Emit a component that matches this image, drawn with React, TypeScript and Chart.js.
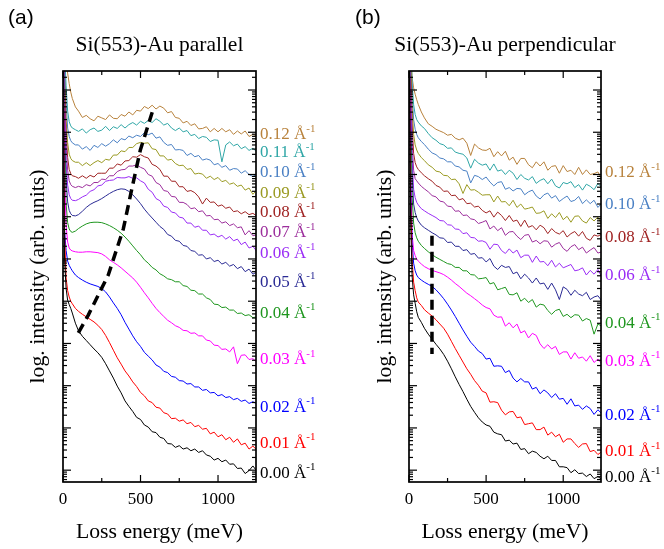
import React, { useEffect, useRef } from 'react';
import { Chart, registerables } from 'chart.js';

Chart.register(...registerables);

// Loss energy grid (meV)
const ENERGY = [
  0, 10, 20, 30, 40, 50, 60, 80,
  100, 125, 150, 175, 200, 225, 250, 275, 300, 325, 350, 375, 400, 425, 450, 475,
  500, 525, 550, 575, 600, 625, 650, 675, 700, 725, 750, 775, 800, 825, 850, 875, 900, 925, 950, 975,
  1000, 1025, 1050, 1075, 1100, 1125, 1150, 1175, 1200, 1225, 1250,
];

const Q_LABELS = ['0.00', '0.01', '0.02', '0.03', '0.04', '0.05', '0.06', '0.07', '0.08', '0.09', '0.10', '0.11', '0.12'];
const COLORS = ['#000000', '#ff0000', '#0000ff', '#ff00ff', '#1e961e', '#2a2a94', '#9a2cf5', '#9c2e9c', '#a02424', '#9a9a22', '#4a80c4', '#2fa6a6', '#b8823c'];

// ---- Si(553)-Au parallel: log10 intensity (offset waterfall) ----
const PAR_000 = [11, 5.0, 4.3, 4.02, 3.92, 3.83, 3.72, 3.48,
  3.3, 3.17, 3.07, 2.97, 2.87, 2.78, 2.67, 2.52, 2.35, 2.18, 1.99, 1.83, 1.64, 1.51, 1.39, 1.25,
  1.2, 1.07, 1.02, 0.91, 0.89, 0.78, 0.75, 0.63, 0.62, 0.54, 0.58, 0.5, 0.53, 0.46, 0.5, 0.42, 0.46, 0.36, 0.33, 0.24,
  0.28, 0.2, 0.24, 0.14, 0.15, 0.04, 0.05, -0.08, -0.01, 0.1, -0.02];
const PAR_001 = [11, 5.6, 4.55, 4.25, 4.1, 4.0, 3.94, 3.83,
  3.76, 3.69, 3.63, 3.57, 3.51, 3.43, 3.33, 3.19, 3.02, 2.84, 2.66, 2.51, 2.35, 2.23, 2.09, 1.98,
  1.84, 1.76, 1.64, 1.6, 1.49, 1.47, 1.36, 1.33, 1.22, 1.23, 1.16, 1.19, 1.1, 1.13, 1.03, 1.06, 0.97, 0.99, 0.86, 0.9,
  0.79, 0.84, 0.72, 0.78, 0.66, 0.74, 0.6, 0.64, 0.5, 0.57, 0.48];
const PAR_002 = [11, 5.7, 5.2, 4.95, 4.85, 4.78, 4.72, 4.62,
  4.56, 4.5, 4.45, 4.41, 4.38, 4.35, 4.3, 4.22, 4.1, 3.96, 3.83, 3.68, 3.5, 3.34, 3.18, 3.04,
  2.93, 2.79, 2.7, 2.61, 2.49, 2.44, 2.34, 2.31, 2.22, 2.2, 2.12, 2.11, 2.04, 2.05, 1.97, 1.97, 1.89, 1.91, 1.83, 1.84,
  1.76, 1.79, 1.72, 1.74, 1.67, 1.7, 1.63, 1.66, 1.58, 1.62, 1.57];
const PAR_003 = [11, 7.0, 5.8, 5.4, 5.26, 5.21, 5.19, 5.17,
  5.16, 5.16, 5.17, 5.17, 5.16, 5.15, 5.12, 5.06, 4.98, 4.92, 4.86, 4.79, 4.71, 4.63, 4.55, 4.45,
  4.33, 4.2, 4.08, 3.95, 3.83, 3.73, 3.64, 3.55, 3.49, 3.42, 3.38, 3.31, 3.3, 3.24, 3.25, 3.18, 3.18, 3.08, 3.06, 2.96,
  2.95, 2.86, 2.87, 2.8, 2.92, 2.52, 2.72, 2.73, 2.62, 2.64, 2.56];
const PAR_004 = [11, 7.6, 6.3, 5.86, 5.71, 5.65, 5.63, 5.66,
  5.72, 5.78, 5.83, 5.86, 5.87, 5.87, 5.86, 5.83, 5.79, 5.74, 5.68, 5.61, 5.52, 5.42, 5.31, 5.2,
  5.1, 4.98, 4.9, 4.8, 4.74, 4.65, 4.6, 4.53, 4.51, 4.46, 4.46, 4.37, 4.35, 4.26, 4.25, 4.17, 4.17, 4.08, 4.04, 3.93,
  3.92, 3.85, 3.86, 3.79, 3.79, 3.71, 3.72, 3.66, 3.68, 3.61, 3.63];
const PAR_005 = [11, 8.0, 6.9, 6.35, 6.15, 6.07, 6.03, 6.02,
  6.05, 6.13, 6.22, 6.29, 6.34, 6.38, 6.43, 6.49, 6.55, 6.6, 6.64, 6.66, 6.65, 6.6, 6.52, 6.42,
  6.31, 6.18, 6.07, 5.97, 5.87, 5.77, 5.7, 5.58, 5.54, 5.44, 5.42, 5.32, 5.3, 5.2, 5.18, 5.09, 5.1, 5.0, 5.03, 4.94,
  4.97, 4.88, 4.92, 4.83, 4.87, 4.77, 4.82, 4.7, 4.76, 4.64, 4.69];
const PAR_006 = [11, 8.4, 7.3, 6.75, 6.52, 6.43, 6.39, 6.38,
  6.41, 6.47, 6.51, 6.6, 6.64, 6.73, 6.75, 6.84, 6.86, 6.87, 6.93, 6.92, 6.92, 6.95, 6.91, 6.92,
  6.85, 6.8, 6.65, 6.58, 6.43, 6.38, 6.25, 6.22, 6.11, 6.09, 5.99, 5.97, 5.85, 5.85, 5.75, 5.78, 5.68, 5.68, 5.57, 5.59,
  5.52, 5.56, 5.47, 5.53, 5.43, 5.47, 5.34, 5.4, 5.26, 5.3, 5.18];
const PAR_007 = [11, 8.8, 7.7, 7.1, 6.85, 6.76, 6.72, 6.69,
  6.72, 6.69, 6.76, 6.73, 6.81, 6.81, 6.89, 6.88, 6.97, 6.97, 7.07, 7.11, 7.12, 7.2, 7.2, 7.23,
  7.17, 7.13, 7.0, 6.96, 6.81, 6.76, 6.62, 6.6, 6.48, 6.47, 6.34, 6.34, 6.29, 6.19, 6.21, 6.12, 6.14, 6.02, 6.03, 5.93,
  5.94, 5.85, 5.88, 5.79, 5.83, 5.74, 5.76, 5.57, 5.67, 5.55, 5.57];
const PAR_008 = [11, 9.0, 8.0, 7.4, 7.12, 7.02, 6.97, 6.95,
  6.91, 6.97, 6.91, 6.98, 6.94, 7.03, 7.03, 7.03, 7.15, 7.15, 7.25, 7.22, 7.32, 7.33, 7.42, 7.41,
  7.47, 7.42, 7.39, 7.24, 7.2, 7.12, 6.96, 6.96, 6.84, 6.84, 6.71, 6.71, 6.6, 6.62, 6.57, 6.47, 6.3, 6.44, 6.34, 6.35,
  6.25, 6.28, 6.2, 6.23, 6.12, 6.14, 6.07, 6.12, 6.05, 6.08, 6.02];
const PAR_009 = [11, 9.3, 8.3, 7.75, 7.48, 7.38, 7.33, 7.29,
  7.29, 7.21, 7.28, 7.21, 7.28, 7.33, 7.28, 7.36, 7.34, 7.46, 7.46, 7.56, 7.54, 7.64, 7.64, 7.73,
  7.76, 7.74, 7.75, 7.61, 7.59, 7.44, 7.44, 7.34, 7.36, 7.26, 7.21, 7.22, 7.12, 7.14, 7.01, 7.03, 7.01, 6.91, 6.96, 6.88,
  6.93, 6.83, 6.86, 6.77, 6.8, 6.72, 6.75, 6.63, 6.68, 6.53, 6.63];
const PAR_010 = [11, 9.6, 8.7, 8.1, 7.9, 7.8, 7.75, 7.7,
  7.7, 7.6, 7.66, 7.57, 7.69, 7.64, 7.73, 7.67, 7.73, 7.82, 7.75, 7.85, 7.82, 7.91, 7.87, 7.93,
  7.9, 7.99, 7.94, 7.98, 7.86, 7.89, 7.76, 7.69, 7.71, 7.58, 7.59, 7.57, 7.45, 7.5, 7.42, 7.45, 7.34, 7.37, 7.34, 7.23,
  7.26, 7.17, 7.21, 7.1, 7.14, 7.13, 7.03, 7.09, 7.0, 6.95, 7.02];
const PAR_011 = [11, 9.9, 9.1, 8.5, 8.25, 8.15, 8.1, 8.06,
  8.02, 8.08, 7.98, 8.06, 8.1, 8.02, 8.05, 8.14, 8.04, 8.13, 8.09, 8.18, 8.1, 8.18, 8.23, 8.17,
  8.26, 8.21, 8.28, 8.23, 8.32, 8.26, 8.17, 8.21, 8.1, 8.04, 8.1, 8.01, 8.04, 7.92, 7.95, 7.85, 7.9, 7.88, 7.78, 7.82,
  7.81, 7.3, 7.7, 7.77, 7.68, 7.72, 7.61, 7.66, 7.57, 7.62, 7.54];
const PAR_012 = [11, 10.2, 9.7, 9.4, 9.15, 8.95, 8.8, 8.6,
  8.5, 8.35, 8.4, 8.32, 8.27, 8.38, 8.34, 8.3, 8.41, 8.33, 8.32, 8.42, 8.38, 8.48, 8.41, 8.52,
  8.5, 8.61, 8.56, 8.64, 8.55, 8.62, 8.57, 8.46, 8.49, 8.35, 8.33, 8.22, 8.26, 8.16, 8.2, 8.08, 8.09, 8.13, 8.01, 8.09,
  8.01, 8.09, 8.01, 8.06, 7.95, 8.03, 7.96, 8.03, 7.9, 7.95, 7.91];

// ---- Si(553)-Au perpendicular ----
const PERP_000 = [11, 6.0, 4.6, 4.15, 3.95, 3.75, 3.62, 3.5,
  3.36, 3.22, 3.1, 2.98, 2.87, 2.74, 2.58, 2.4, 2.21, 2.03, 1.86, 1.68, 1.51, 1.37, 1.24, 1.14,
  1.07, 1.04, 0.9, 0.86, 0.84, 0.69, 0.71, 0.62, 0.64, 0.49, 0.51, 0.39, 0.45, 0.42, 0.33, 0.27, 0.33, 0.23, 0.23, 0.08,
  0.08, 0.06, -0.06, 0.01, -0.08, -0.07, -0.15, -0.09, -0.2, -0.15, -0.22];
const PERP_001 = [11, 6.6, 5.0, 4.45, 4.25, 4.08, 3.98, 3.9,
  3.8, 3.72, 3.65, 3.56, 3.46, 3.36, 3.22, 3.05, 2.88, 2.72, 2.56, 2.4, 2.27, 2.12, 2.01, 1.87,
  1.83, 1.61, 1.62, 1.6, 1.42, 1.31, 1.38, 1.39, 1.24, 1.26, 1.08, 1.1, 1.12, 0.96, 0.96, 1.02, 0.83, 0.9, 0.79, 0.85,
  0.66, 0.74, 0.74, 0.63, 0.54, 0.62, 0.63, 0.44, 0.47, 0.37, 0.44];
const PERP_002 = [11, 6.9, 5.4, 4.9, 4.72, 4.62, 4.56, 4.5,
  4.45, 4.4, 4.35, 4.27, 4.17, 4.06, 3.93, 3.79, 3.64, 3.48, 3.32, 3.17, 3.03, 2.93, 2.82, 2.76,
  2.63, 2.65, 2.46, 2.47, 2.46, 2.31, 2.36, 2.18, 2.09, 2.17, 2.09, 2.09, 1.92, 1.96, 1.81, 1.9, 1.83, 1.72, 1.81, 1.68,
  1.7, 1.56, 1.69, 1.52, 1.54, 1.44, 1.52, 1.46, 1.32, 1.43, 1.34];
const PERP_003 = [11, 7.3, 5.6, 5.2, 5.08, 5.0, 4.95, 4.88,
  4.82, 4.77, 4.73, 4.7, 4.67, 4.63, 4.57, 4.5, 4.42, 4.35, 4.27, 4.19, 4.13, 4.06, 3.99, 3.91,
  3.85, 3.82, 3.67, 3.62, 3.63, 3.41, 3.49, 3.37, 3.46, 3.25, 3.3, 3.13, 3.24, 3.19, 2.99, 2.88, 2.97, 2.87, 2.93, 2.74,
  2.8, 2.8, 2.63, 2.78, 2.65, 2.68, 2.58, 2.71, 2.55, 2.63, 2.52];
const PERP_004 = [11, 8.0, 6.5, 5.85, 5.62, 5.5, 5.42, 5.32,
  5.25, 5.17, 5.1, 5.04, 4.99, 4.94, 4.89, 4.87, 4.8, 4.8, 4.72, 4.72, 4.63, 4.62, 4.53, 4.54,
  4.56, 4.41, 4.44, 4.27, 4.3, 4.33, 4.16, 4.15, 4.2, 4.0, 4.07, 3.97, 4.04, 3.86, 3.93, 3.91, 3.78, 3.69, 3.78, 3.81,
  3.64, 3.69, 3.61, 3.68, 3.67, 3.53, 3.59, 3.55, 3.22, 3.46, 3.41];
const PERP_005 = [11, 8.5, 7.0, 6.3, 6.1, 5.98, 5.9, 5.8,
  5.74, 5.68, 5.62, 5.57, 5.5, 5.49, 5.39, 5.4, 5.3, 5.3, 5.2, 5.22, 5.11, 5.13, 5.02, 5.03,
  4.93, 5.01, 4.83, 4.75, 4.85, 4.8, 4.82, 4.65, 4.69, 4.53, 4.64, 4.55, 4.43, 4.55, 4.41, 4.43, 4.28, 4.43, 4.27, 4.04,
  4.34, 4.28, 4.14, 4.26, 4.17, 4.13, 4.21, 4.04, 4.1, 4.13, 4.01];
const PERP_006 = [11, 8.9, 7.4, 6.65, 6.45, 6.34, 6.28, 6.19,
  6.14, 6.08, 6.03, 5.98, 5.91, 5.9, 5.81, 5.8, 5.71, 5.7, 5.6, 5.62, 5.51, 5.5, 5.42, 5.43,
  5.39, 5.23, 5.35, 5.34, 5.2, 5.13, 5.24, 5.14, 5.21, 5.03, 5.09, 5.09, 4.92, 5.07, 4.93, 4.94, 4.84, 4.97, 4.81, 4.9,
  4.79, 4.83, 4.87, 4.72, 4.74, 4.79, 4.62, 4.73, 4.64, 4.75, 4.57];
const PERP_007 = [11, 9.2, 7.8, 7.1, 6.9, 6.85, 6.8, 6.72,
  6.66, 6.59, 6.5, 6.47, 6.37, 6.35, 6.25, 6.24, 6.13, 6.14, 6.03, 6.04, 5.95, 5.93, 5.84, 5.87,
  5.91, 5.71, 5.78, 5.67, 5.74, 5.56, 5.64, 5.65, 5.54, 5.46, 5.56, 5.58, 5.4, 5.44, 5.36, 5.43, 5.42, 5.28, 5.35, 5.39,
  5.25, 5.18, 5.29, 5.34, 5.22, 5.28, 5.14, 5.21, 5.27, 5.14, 5.17];
const PERP_008 = [11, 9.5, 8.2, 7.5, 7.28, 7.18, 7.12, 7.04,
  6.97, 6.9, 6.84, 6.74, 6.7, 6.6, 6.61, 6.5, 6.51, 6.4, 6.43, 6.31, 6.32, 6.23, 6.25, 6.15,
  6.09, 6.14, 5.99, 6.11, 6.03, 5.91, 6.03, 5.89, 5.92, 5.77, 5.92, 5.75, 5.79, 5.69, 5.8, 5.74, 5.6, 5.72, 5.63, 5.59,
  5.67, 5.52, 5.6, 5.65, 5.54, 5.65, 5.49, 5.44, 5.57, 5.54, 5.59];
const PERP_009 = [11, 9.8, 8.6, 7.95, 7.7, 7.58, 7.5, 7.4,
  7.33, 7.23, 7.17, 7.08, 7.06, 6.98, 6.97, 6.88, 6.89, 6.78, 6.55, 6.76, 6.63, 6.64, 6.58, 6.51,
  6.52, 6.52, 6.35, 6.49, 6.35, 6.36, 6.26, 6.39, 6.22, 6.3, 6.18, 6.2, 6.23, 6.08, 6.09, 6.14, 5.96, 6.07, 5.98, 6.1,
  5.93, 6.01, 5.87, 6.01, 6.02, 5.9, 5.85, 5.98, 5.9, 5.99, 5.82];
const PERP_010 = [11, 10.1, 8.9, 8.3, 8.07, 7.95, 7.87, 7.78,
  7.71, 7.6, 7.51, 7.47, 7.39, 7.37, 7.3, 7.3, 7.2, 7.18, 7.1, 7.08, 6.8, 6.98, 6.95, 6.88,
  6.94, 6.82, 6.73, 6.81, 6.83, 6.65, 6.69, 6.61, 6.67, 6.66, 6.52, 6.59, 6.63, 6.49, 6.42, 6.52, 6.56, 6.44, 6.5, 6.36,
  6.43, 6.49, 6.36, 6.39, 6.48, 6.31, 6.4, 6.31, 6.39, 6.22, 6.32];
const PERP_011 = [11, 10.4, 9.2, 8.65, 8.42, 8.3, 8.24, 8.15,
  8.09, 7.97, 7.87, 7.81, 7.73, 7.7, 7.62, 7.63, 7.53, 7.5, 7.48, 7.39, 7.15, 7.36, 7.27, 7.22,
  7.25, 7.1, 7.25, 7.08, 7.11, 7.0, 7.1, 7.03, 6.88, 7.0, 6.91, 6.87, 6.95, 6.79, 6.86, 6.9, 6.78, 6.89, 6.73, 6.68,
  6.81, 6.78, 6.83, 6.69, 6.76, 6.63, 6.77, 6.72, 6.64, 6.79, 6.69];
const PERP_012 = [11, 10.0, 9.3, 9.05, 8.9, 8.77, 8.66, 8.48,
  8.34, 8.2, 8.14, 8.07, 8.03, 7.99, 7.93, 7.95, 7.86, 7.82, 7.86, 7.74, 7.45, 7.72, 7.63, 7.58,
  7.57, 7.62, 7.42, 7.54, 7.44, 7.55, 7.34, 7.41, 7.24, 7.38, 7.38, 7.23, 7.16, 7.3, 7.2, 7.3, 7.1, 7.19, 7.21, 7.03,
  7.21, 7.07, 7.1, 7.0, 7.17, 7.0, 7.11, 7.0, 7.02, 7.06, 6.89];

const PAR_SERIES = [PAR_000, PAR_001, PAR_002, PAR_003, PAR_004, PAR_005, PAR_006, PAR_007, PAR_008, PAR_009, PAR_010, PAR_011, PAR_012];
const PERP_SERIES = [PERP_000, PERP_001, PERP_002, PERP_003, PERP_004, PERP_005, PERP_006, PERP_007, PERP_008, PERP_009, PERP_010, PERP_011, PERP_012];

// curve label positions (log-intensity units)
const PAR_LABEL_IDX = [0, 1, 2, 3, 4, 5, 6, 7, 8, 9, 10, 11, 12];
const PAR_LABEL_POS = [-0.07, 0.64, 1.49, 2.61, 3.72, 4.45, 5.14, 5.62, 6.11, 6.56, 7.04, 7.51, 7.94];
const PERP_LABEL_IDX = [0, 1, 2, 3, 4, 6, 8, 10, 12];
const PERP_LABEL_POS = [-0.17, 0.43, 1.3, 2.58, 3.48, 4.6, 5.5, 6.28, 7.04];

// plasmon dispersion guide lines
const PAR_DISP_E = [99, 163, 228, 292, 389, 447, 499, 576];
const PAR_DISP_V = [3.25, 3.67, 4.15, 4.62, 5.71, 6.71, 7.58, 8.48];
const PERP_DISP_E = [149, 149];
const PERP_DISP_V = [5.55, 2.75];

const X_TICKS = [0, 500, 1000];
const X_MINOR = [250, 750];
const X_MAX = 1245;
const Y_MIN = -0.28;
const Y_MAX = 9.45;

const SERIF = '"Liberation Serif", "Times New Roman", serif';
const SANS = '"Liberation Sans", Arial, sans-serif';

type PanelProps = {
  left: number;
  padL: number;
  padR: number;
  series: number[][];
  labelIdx: number[];
  labelPos: number[];
  dispE: number[];
  dispV: number[];
  title: string;
  tag: string;
  tagX: number;
  yTitleX: number;
};

function makeDecor(p: PanelProps) {
  return {
    id: 'decor',
    afterDraw(chart: any) {
      const { ctx, chartArea: a } = chart;
      const xs = chart.scales.x;
      const ys = chart.scales.y;
      ctx.save();
      const seg = (x1: number, y1: number, x2: number, y2: number) => {
        ctx.beginPath();
        ctx.moveTo(x1, y1);
        ctx.lineTo(x2, y2);
        ctx.stroke();
      };
      ctx.strokeStyle = '#000';
      ctx.lineWidth = 1.2;
      for (const t of X_TICKS) {
        const px = xs.getPixelForValue(t);
        seg(px, a.bottom, px, a.bottom - 7);
        seg(px, a.top, px, a.top + 7);
      }
      for (const t of X_MINOR) {
        const px = xs.getPixelForValue(t);
        seg(px, a.bottom, px, a.bottom - 4);
        seg(px, a.top, px, a.top + 4);
      }
      for (let d = -1; d <= 9; d++) {
        for (let k = 1; k <= 9; k++) {
          const v = d + Math.log10(k);
          if (v < Y_MIN || v > Y_MAX) continue;
          const py = ys.getPixelForValue(v);
          const len = k === 1 ? 8 : 4;
          seg(a.left, py, a.left + len, py);
          seg(a.right, py, a.right - len, py);
        }
      }
      ctx.lineWidth = 1.7;
      ctx.strokeRect(a.left, a.top, a.right - a.left, a.bottom - a.top);

      ctx.fillStyle = '#000';
      ctx.textAlign = 'center';
      ctx.textBaseline = 'middle';
      ctx.font = `17px ${SERIF}`;
      for (const t of X_TICKS) {
        ctx.fillText(String(t), xs.getPixelForValue(t), a.bottom + 18);
      }
      ctx.font = `21.7px ${SERIF}`;
      const cx = (a.left + a.right) / 2;
      ctx.fillText('Loss energy (meV)', cx, a.bottom + 50);
      ctx.font = `21.5px ${SERIF}`;
      ctx.fillText(p.title, cx, 45);
      ctx.save();
      ctx.translate(p.yTitleX, (a.top + a.bottom) / 2);
      ctx.rotate(-Math.PI / 2);
      ctx.font = `21.7px ${SERIF}`;
      ctx.fillText('log. intensity (arb. units)', 0, 0);
      ctx.restore();
      ctx.textAlign = 'left';
      ctx.font = `21px ${SANS}`;
      ctx.fillText(p.tag, p.tagX, 18);

      p.labelIdx.forEach((idx, j) => {
        const py = ys.getPixelForValue(p.labelPos[j]);
        const lx = a.right + 4;
        ctx.fillStyle = COLORS[idx];
        ctx.font = `17px ${SERIF}`;
        const main = Q_LABELS[idx] + ' \u00c5';
        ctx.fillText(main, lx, py);
        const w = ctx.measureText(main).width;
        ctx.font = `11px ${SERIF}`;
        ctx.fillText('-1', lx + w, py - 6);
      });
      ctx.restore();
    },
  };
}

function Panel(p: PanelProps) {
  const ref = useRef<HTMLCanvasElement>(null);
  useEffect(() => {
    if (!ref.current) return;
    const datasets: any[] = [
      {
        data: p.dispE.map((e, j) => ({ x: e, y: p.dispV[j] })),
        borderColor: '#000',
        borderWidth: 3.5,
        borderDash: [10, 6],
        pointRadius: 0,
        fill: false,
        tension: 0,
      },
    ];
    p.series.forEach((s, i) => {
      datasets.push({
        data: ENERGY.map((e, j) => ({ x: e, y: s[j] })),
        borderColor: COLORS[i],
        borderWidth: 1,
        pointRadius: 0,
        fill: false,
        tension: 0,
      });
    });
    const chart = new Chart(ref.current, {
      type: 'line',
      data: { datasets },
      options: {
        animation: false,
        responsive: false,
        devicePixelRatio: 1,
        layout: { padding: { left: p.padL, right: p.padR, top: 71, bottom: 67 } },
        scales: {
          x: { type: 'linear', min: 0, max: X_MAX, display: false },
          y: { type: 'linear', min: Y_MIN, max: Y_MAX, display: false },
        },
        plugins: { legend: { display: false }, tooltip: { enabled: false }, title: { display: false } },
        elements: { line: { borderJoinStyle: 'round' } },
      } as any,
      plugins: [makeDecor(p)],
    });
    return () => chart.destroy();
  }, []);
  return (
    <canvas
      ref={ref}
      width={332}
      height={549}
      style={{ position: 'absolute', left: p.left, top: 0, width: 332, height: 549 }}
    />
  );
}

export default function App() {
  return (
    <div style={{ position: 'absolute', left: 0, top: 0, width: 664, height: 549, background: '#fff' }}>
      <Panel
        left={0}
        padL={63}
        padR={76}
        series={PAR_SERIES}
        labelIdx={PAR_LABEL_IDX}
        labelPos={PAR_LABEL_POS}
        dispE={PAR_DISP_E}
        dispV={PAR_DISP_V}
        title="Si(553)-Au parallel"
        tag="(a)"
        tagX={8}
        yTitleX={38}
      />
      <Panel
        left={332}
        padL={77}
        padR={63}
        series={PERP_SERIES}
        labelIdx={PERP_LABEL_IDX}
        labelPos={PERP_LABEL_POS}
        dispE={PERP_DISP_E}
        dispV={PERP_DISP_V}
        title="Si(553)-Au perpendicular"
        tag="(b)"
        tagX={23}
        yTitleX={53}
      />
    </div>
  );
}
